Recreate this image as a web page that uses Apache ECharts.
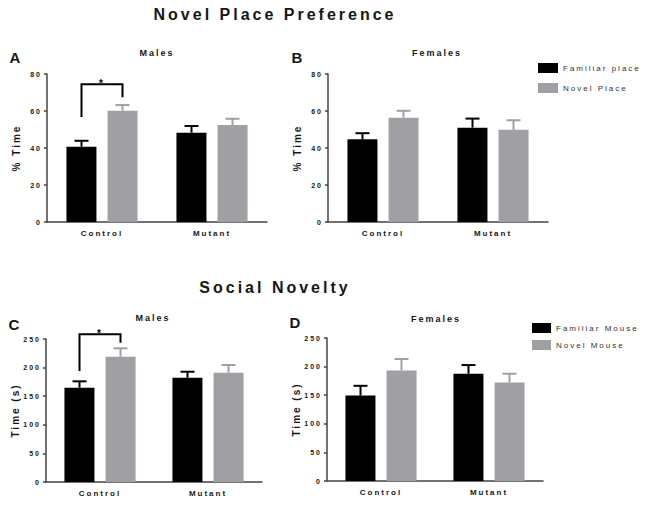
<!DOCTYPE html>
<html>
<head>
<meta charset="utf-8">
<script src="https://cdn.jsdelivr.net/npm/echarts@6/dist/echarts.min.js"></script>
<style>
html,body{margin:0;padding:0;background:#fff}
#c{width:645px;height:505px}
#c text{letter-spacing:2px}
#c text[style*="16px"]{letter-spacing:3px}
</style>
</head>
<body>
<div id="c"></div>
<script>
// ---- data ----
var categories = ['Control', 'Mutant'];
var placeTicks = [0, 20, 40, 60, 80];
var socialTicks = [0, 50, 100, 150, 200, 250];

var placeMaleFamiliar = [40.7, 48.3];
var placeMaleFamiliarErr = [3.2, 3.6];
var placeMaleNovel = [60.2, 52.4];
var placeMaleNovelErr = [3.0, 3.4];

var placeFemaleFamiliar = [44.7, 51.0];
var placeFemaleFamiliarErr = [3.3, 4.9];
var placeFemaleNovel = [56.4, 49.8];
var placeFemaleNovelErr = [3.7, 5.2];

var socialMaleFamiliar = [164.9, 182.3];
var socialMaleFamiliarErr = [11.1, 10.5];
var socialMaleNovel = [219.0, 191.0];
var socialMaleNovelErr = [14.7, 13.5];

var socialFemaleFamiliar = [149.4, 187.5];
var socialFemaleFamiliarErr = [17.0, 15.2];
var socialFemaleNovel = [193.2, 172.2];
var socialFemaleNovelErr = [20.0, 15.3];

// significance brackets: [left leg bottom, top, right leg bottom]
var placeMaleBracket = [56.7, 74.4, 67.4];
var socialMaleBracket = [194, 258.2, 243.5];

// ---- styling ----
var BLACK = '#000000';
var GRAY = '#a0a0a4';
var AXIS = '#444';
var TEXT = '#161616';
var FONT = 'Liberation Sans';

var chart = echarts.init(document.getElementById('c'), null, {renderer: 'svg'});

var grids = [
  {left: 47, top: 74, width: 220, height: 148},
  {left: 328, top: 74, width: 220, height: 148},
  {left: 46, top: 339, width: 216, height: 143},
  {left: 327, top: 338, width: 216, height: 143}
];

function xAxisFor(i) {
  return {
    type: 'category', gridIndex: i, data: categories,
    axisLine: {lineStyle: {color: AXIS, width: 1.5}},
    axisTick: {alignWithLabel: true, length: 4, lineStyle: {color: AXIS, width: 1.5}},
    axisLabel: {margin: 7, fontFamily: FONT, fontSize: 8, fontWeight: 'bold', color: TEXT}
  };
}
function yAxisFor(i, max, interval, ticks, name) {
  return {
    type: 'value', gridIndex: i, min: ticks[0], max: max, interval: interval,
    name: name, nameLocation: 'middle', nameGap: 26,
    nameTextStyle: {fontFamily: FONT, fontSize: 10, fontWeight: 'bold', color: TEXT},
    splitLine: {show: false},
    axisLine: {show: true, lineStyle: {color: AXIS, width: 1.5}},
    axisTick: {show: true, length: 3, lineStyle: {color: AXIS, width: 1.5}},
    axisLabel: {margin: 5, fontFamily: FONT, fontSize: 7, fontWeight: 'bold', color: TEXT}
  };
}

var BARW = 30, GAPPX = 11;
function barSeries(name, gi, data, color) {
  return {
    type: 'bar', name: name, xAxisIndex: gi, yAxisIndex: gi, data: data,
    barWidth: BARW, barGap: (GAPPX / BARW * 100).toFixed(0) + '%',
    itemStyle: {color: color}, silent: true, z: 2
  };
}
function errSeries(gi, vals, errs, color, side) {
  var d = vals.map(function (v, k) { return [k, v, v + errs[k]]; });
  return {
    type: 'custom', xAxisIndex: gi, yAxisIndex: gi, data: d, z: 1, silent: true,
    renderItem: function (params, api) {
      var off = side * (BARW + GAPPX) / 2;
      var p0 = api.coord([api.value(0), api.value(1)]);
      var p1 = api.coord([api.value(0), api.value(2)]);
      var x = p0[0] + off;
      var cap = 7;
      return {
        type: 'group',
        children: [
          {type: 'line', shape: {x1: x, y1: p0[1], x2: x, y2: p1[1]}, style: {stroke: color, lineWidth: 2}},
          {type: 'line', shape: {x1: x - cap, y1: p1[1], x2: x + cap, y2: p1[1]}, style: {stroke: color, lineWidth: 2}}
        ]
      };
    }
  };
}
function bracketSeries(gi, br) {
  return {
    type: 'custom', xAxisIndex: gi, yAxisIndex: gi, data: [[0, br[0], br[1], br[2]]], clip: false, silent: true, z: 5,
    renderItem: function (params, api) {
      var off = (BARW + GAPPX) / 2;
      var c = api.coord([api.value(0), api.value(2)]);
      var yl = api.coord([api.value(0), api.value(1)])[1];
      var yr = api.coord([api.value(0), api.value(3)])[1];
      var xl = c[0] - off, xr = c[0] + off;
      return {
        type: 'group',
        children: [
          {type: 'polyline', shape: {points: [[xl, yl], [xl, c[1]], [xr, c[1]], [xr, yr]]}, style: {stroke: '#000', lineWidth: 2, fill: null}},
          {type: 'text', style: {x: c[0], y: c[1] - 1, text: '*', textAlign: 'center', textVerticalAlign: 'middle', font: 'bold 10px ' + FONT, fill: '#000'}}
        ]
      };
    }
  };
}

function txt(x, y, s, size, weight, align) {
  return {type: 'text', x: x, y: y, style: {text: s, font: (weight || 'bold') + ' ' + size + 'px ' + FONT, fill: TEXT, textAlign: align || 'center', textVerticalAlign: 'middle'}};
}

var option = {
  animation: false,
  backgroundColor: '#fff',
  grid: grids,
  xAxis: [xAxisFor(0), xAxisFor(1), xAxisFor(2), xAxisFor(3)],
  yAxis: [
    yAxisFor(0, 80, 20, placeTicks, '% Time'),
    yAxisFor(1, 80, 20, placeTicks, '% Time'),
    yAxisFor(2, 250, 50, socialTicks, 'Time (s)'),
    yAxisFor(3, 250, 50, socialTicks, 'Time (s)')
  ],
  legend: [
    {data: ['Familiar place', 'Novel Place'], orient: 'vertical', left: 533, top: 58, itemGap: 10,
     itemWidth: 20, itemHeight: 10, icon: 'rect', selectedMode: false,
     textStyle: {fontFamily: FONT, fontSize: 8, color: '#333'}},
    {data: ['Familiar Mouse', 'Novel Mouse'], orient: 'vertical', left: 527, top: 318, itemGap: 7,
     itemWidth: 19, itemHeight: 10, icon: 'rect', selectedMode: false,
     textStyle: {fontFamily: FONT, fontSize: 8, color: '#333'}}
  ],
  graphic: [
    txt(275, 14, 'Novel Place Preference', 16),
    txt(275, 287, 'Social Novelty', 16),
    txt(157, 53, 'Males', 9),
    txt(437, 53, 'Females', 9),
    txt(153, 318, 'Males', 9),
    txt(436, 319, 'Females', 9),
    txt(16, 57, 'A', 15),
    txt(298, 57, 'B', 15),
    txt(15, 324, 'C', 15),
    txt(296, 322, 'D', 15)
  ],
  series: [
    barSeries('Familiar place', 0, placeMaleFamiliar, BLACK),
    barSeries('Novel Place', 0, placeMaleNovel, GRAY),
    errSeries(0, placeMaleFamiliar, placeMaleFamiliarErr, BLACK, -1),
    errSeries(0, placeMaleNovel, placeMaleNovelErr, GRAY, 1),
    bracketSeries(0, placeMaleBracket),

    barSeries('Familiar place', 1, placeFemaleFamiliar, BLACK),
    barSeries('Novel Place', 1, placeFemaleNovel, GRAY),
    errSeries(1, placeFemaleFamiliar, placeFemaleFamiliarErr, BLACK, -1),
    errSeries(1, placeFemaleNovel, placeFemaleNovelErr, GRAY, 1),

    barSeries('Familiar Mouse', 2, socialMaleFamiliar, BLACK),
    barSeries('Novel Mouse', 2, socialMaleNovel, GRAY),
    errSeries(2, socialMaleFamiliar, socialMaleFamiliarErr, BLACK, -1),
    errSeries(2, socialMaleNovel, socialMaleNovelErr, GRAY, 1),
    bracketSeries(2, socialMaleBracket),

    barSeries('Familiar Mouse', 3, socialFemaleFamiliar, BLACK),
    barSeries('Novel Mouse', 3, socialFemaleNovel, GRAY),
    errSeries(3, socialFemaleFamiliar, socialFemaleFamiliarErr, BLACK, -1),
    errSeries(3, socialFemaleNovel, socialFemaleNovelErr, GRAY, 1)
  ]
};
chart.setOption(option);
</script>
</body>
</html>
